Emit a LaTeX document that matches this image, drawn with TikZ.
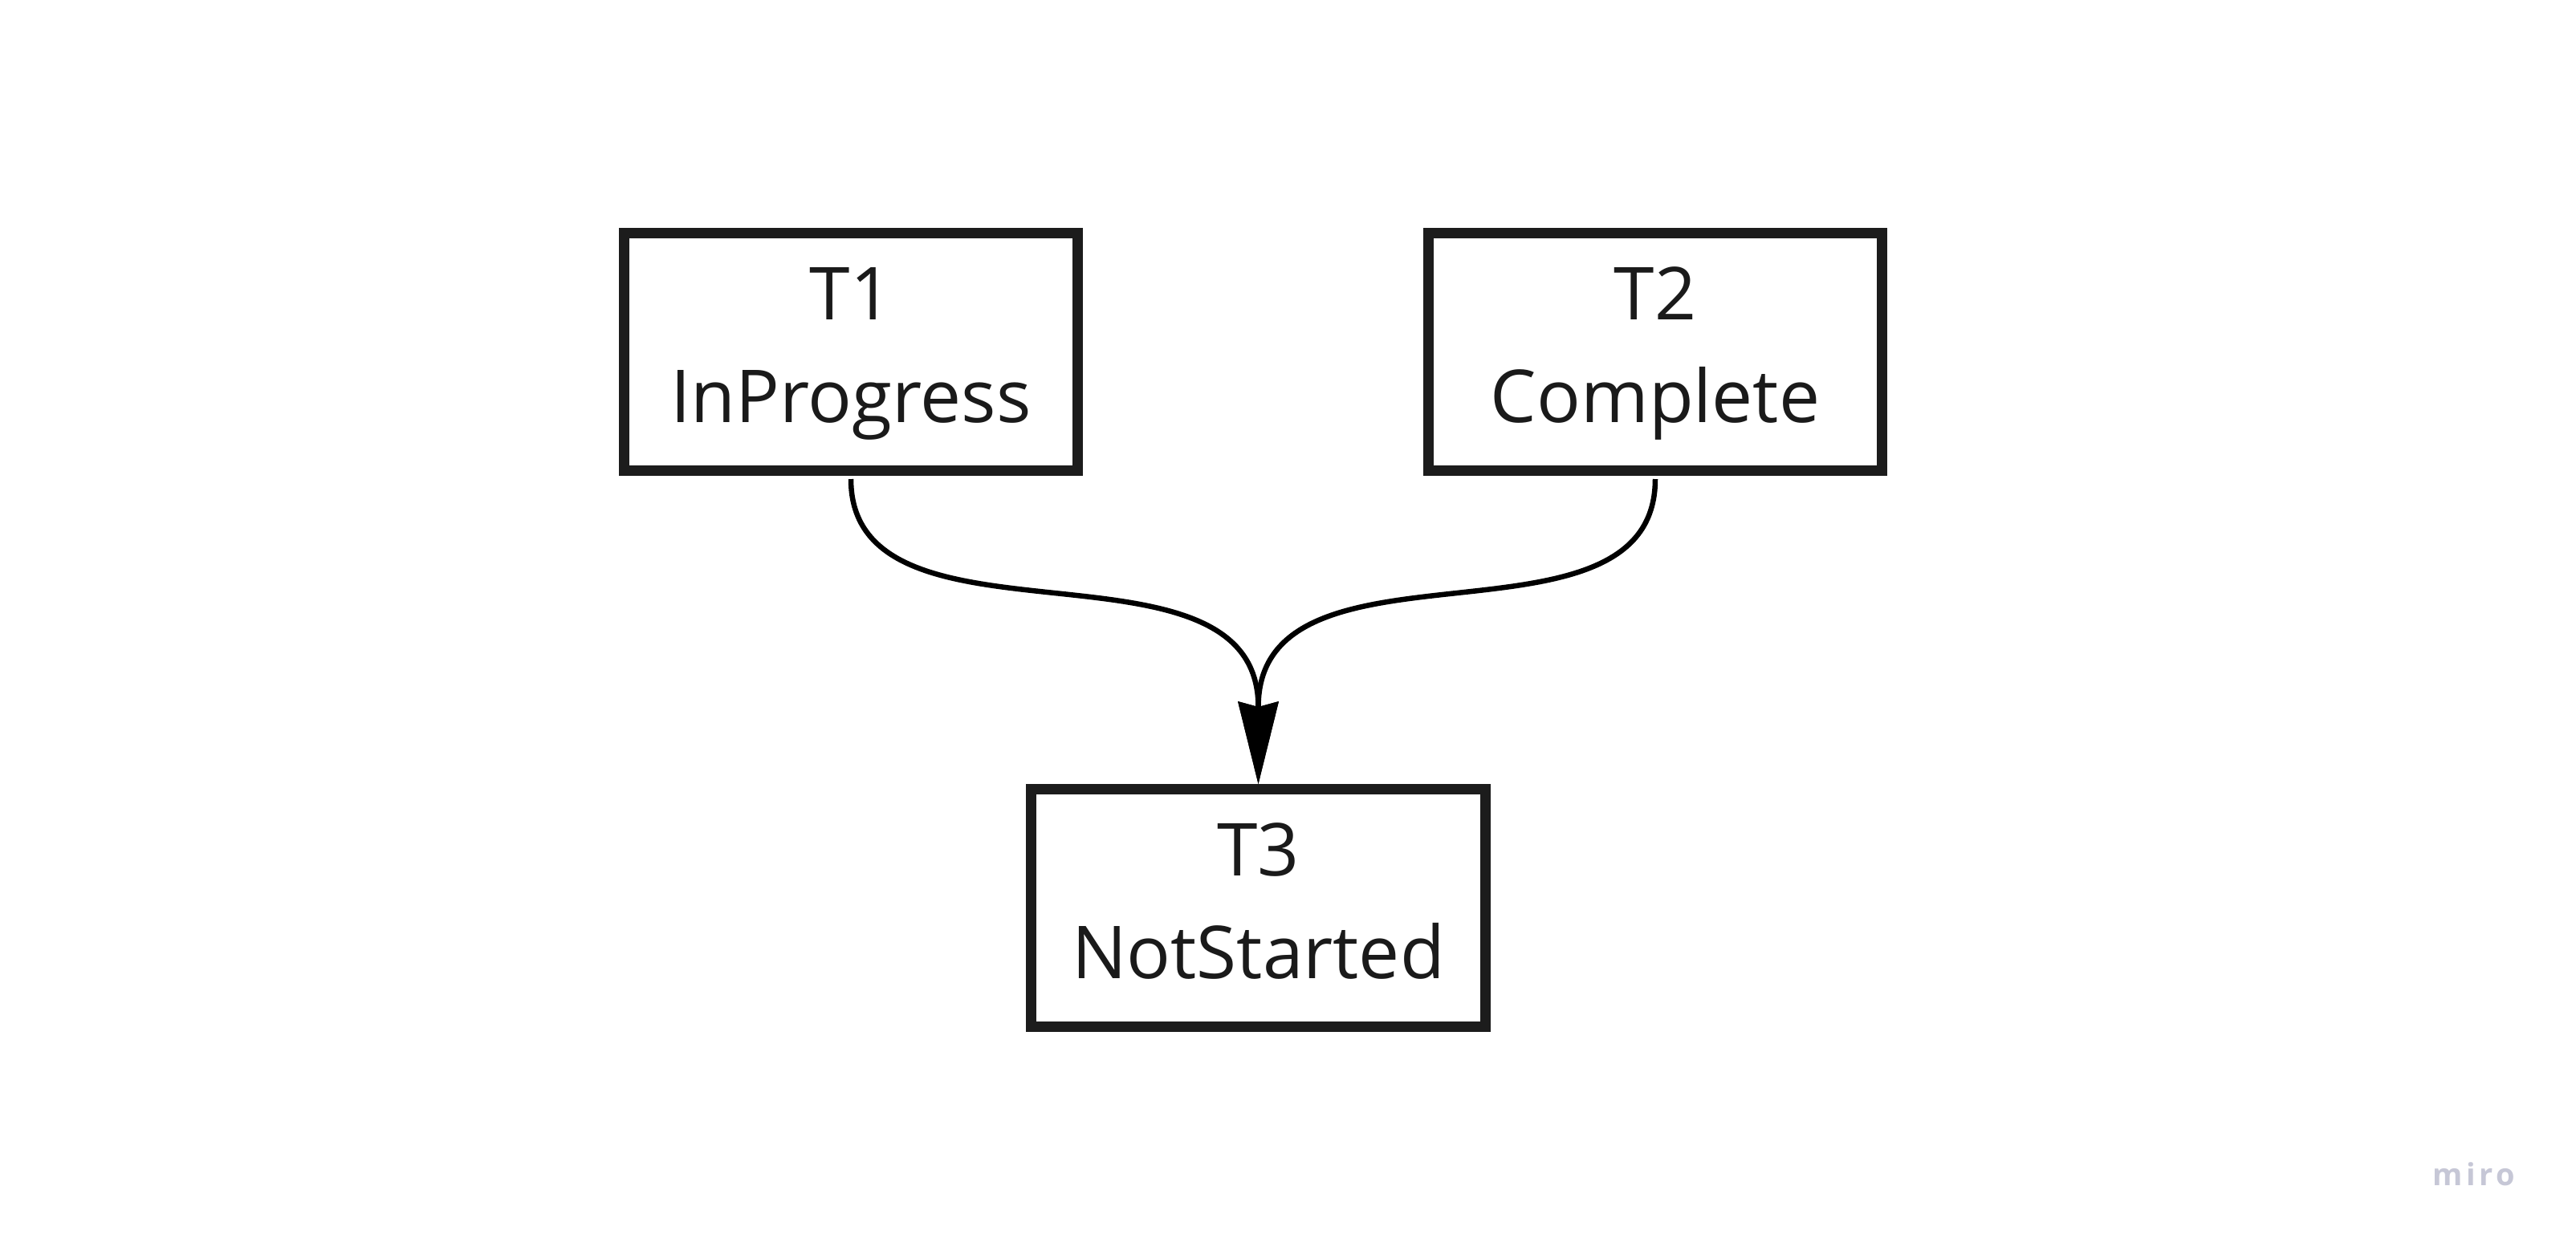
\documentclass[tikz,border=0pt]{standalone}
\usepackage{fontspec}
\setmainfont{Open Sans}
\newfontfamily\logofont[LetterSpace=12]{Open Sans}
\usetikzlibrary{arrows.meta}
\definecolor{boxcol}{HTML}{1C1C1C}
\definecolor{txtcol}{HTML}{1A1A1A}
\definecolor{logocol}{HTML}{C6C7D6}
\begin{document}
\begin{tikzpicture}[x=1cm,y=1cm]
\tikzset{
  taskbox/.style={draw=boxcol, line width=0.13cm, minimum width=5.655cm, minimum height=2.96cm, inner sep=0pt},
  tasktext/.style={anchor=base, inner sep=0pt, text=txtcol, font=\fontsize{25.9pt}{30pt}\selectfont},
  conn/.style={line width=0.065cm, draw=black, line join=round,
    -{Stealth[length=1.03cm,width=0.51cm,inset=0.07cm,line width=0pt]}}
}
\fill[white] (0,0) rectangle (32.09,-15.63);
\useasboundingbox (0,0) rectangle (32.09,-15.63);

\node[taskbox] (t1) at (10.60,-4.385) {};
\node[tasktext] (t1a) at ([yshift=0.405cm]t1.center) {T1};
\node[tasktext] (t1b) at ([yshift=-0.875cm]t1.center) {InProgress};

\node[taskbox] (t2) at (20.62,-4.385) {};
\node[tasktext] (t2a) at ([yshift=0.405cm]t2.center) {T2};
\node[tasktext] (t2b) at ([yshift=-0.875cm]t2.center) {Complete};

\node[taskbox] (t3) at (15.675,-11.315) {};
\node[tasktext] (t3a) at ([yshift=0.405cm]t3.center) {T3};
\node[tasktext] (t3b) at ([yshift=-0.875cm]t3.center) {NotStarted};

\coordinate (s1) at ([yshift=-0.04cm]t1.south);
\coordinate (s2) at ([yshift=-0.04cm]t2.south);
\coordinate (m) at ([yshift=0.96cm]t3.north);

\draw[conn] (s1) .. controls +(0,-2.3) and +(0,2.3) .. (m) -- (t3.north);
\draw[conn] (s2) .. controls +(0,-2.3) and +(0,2.3) .. (m) -- (t3.north);

\node[anchor=base east, inner sep=0pt, text=logocol, font=\logofont\bfseries\fontsize{10.8pt}{12pt}\selectfont] (logo) at (31.34,-14.77) {miro};
\end{tikzpicture}
\end{document}
